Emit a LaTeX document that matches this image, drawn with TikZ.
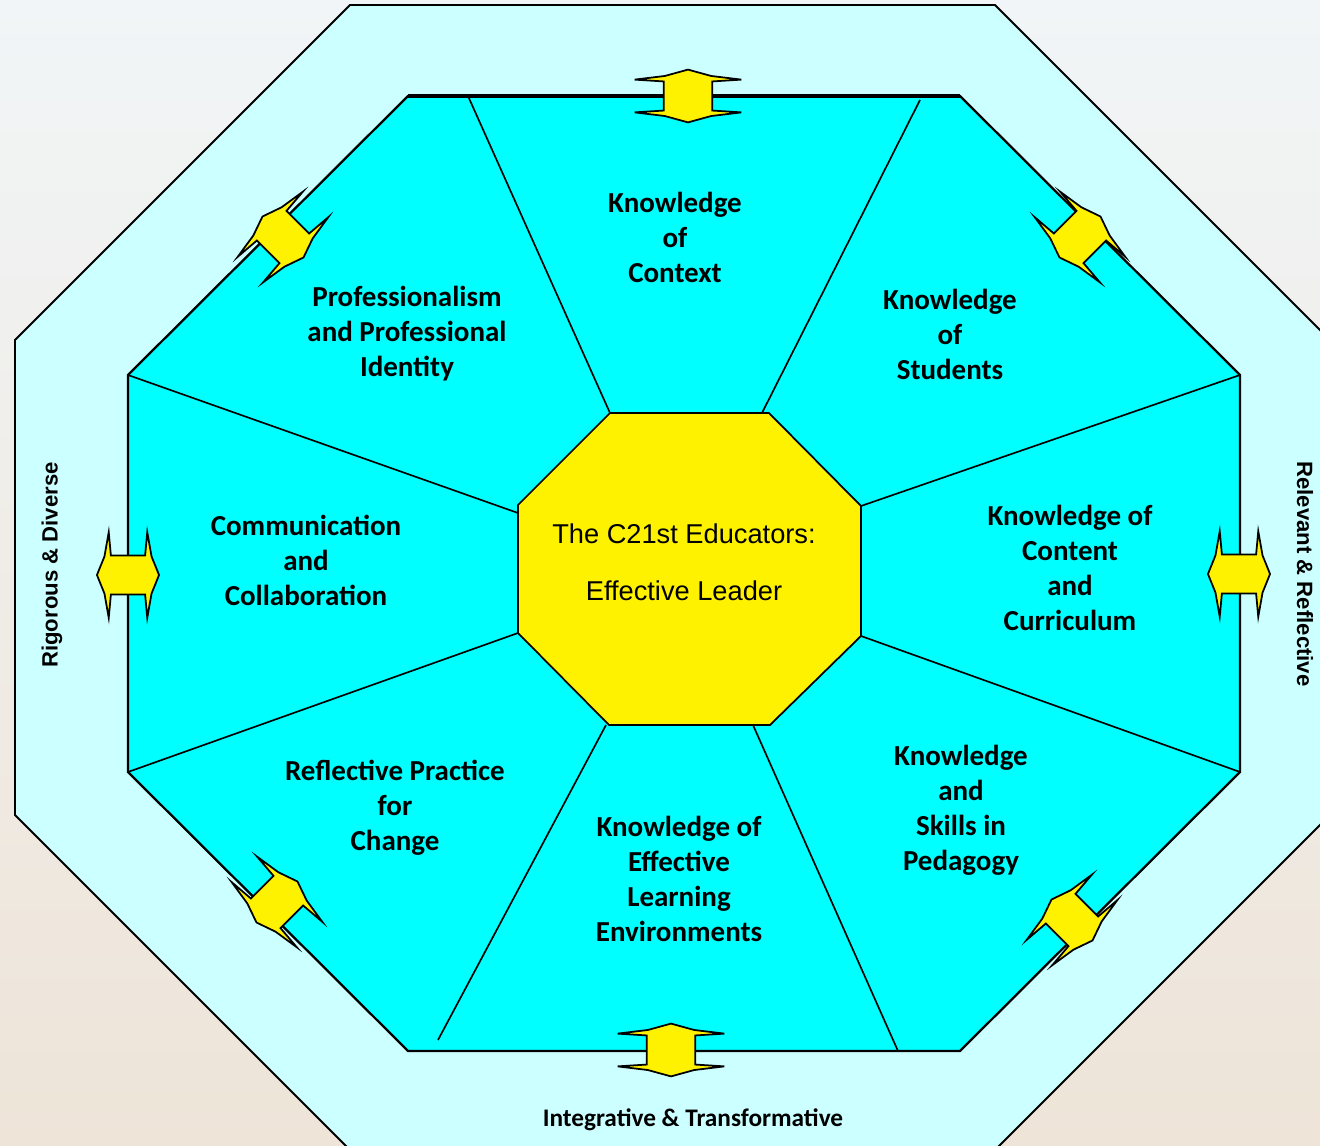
\documentclass[tikz,border=0pt]{standalone}
\usepackage{fontspec}
\setmainfont{Carlito}
\newfontfamily\arialfont{Liberation Sans}
\usetikzlibrary{calc}

\definecolor{paleaqua}{HTML}{CCFFFF}
\definecolor{aqua}{HTML}{00FFFF}
\definecolor{bgtop}{HTML}{F1F5F7}
\definecolor{bgmid}{HTML}{F8F8F6}
\definecolor{bgbot}{HTML}{EEE4D8}

\tikzset{
  facet/.style={font=\bfseries\fontsize{16.5}{19.9}\selectfont, align=center},
  rim/.style={font=\arialfont\bfseries\fontsize{12.6}{15}\selectfont},
  dblarrow/.style={fill=yellow, draw=black, line width=1pt, line join=miter},
  divider/.style={line width=0.95pt},
}

\begin{document}
\begin{tikzpicture}[x=0.02cm, y=-0.02cm]
    \clip (0,0) rectangle (1320,1146);
    \shade[top color=bgtop, middle color=bgmid, bottom color=bgbot] (0,0) rectangle (1320,1146);

    % outer ring
    \draw[fill=paleaqua, line width=1.1pt] (350,5) -- (995,5) -- (1330,340) -- (1330,815)
        -- (995,1150) -- (350,1150) -- (15,815) -- (15,340) -- cycle;

    % inner octagon
    \coordinate (i1) at (408,96);
    \coordinate (i2) at (960,96);
    \coordinate (i3) at (1240,375);
    \coordinate (i4) at (1240,772);
    \coordinate (i5) at (960,1051);
    \coordinate (i6) at (408,1051);
    \coordinate (i7) at (128,772);
    \coordinate (i8) at (128,375);
    \draw[fill=aqua, line width=1.3pt] (i1) -- (i2) -- (i3) -- (i4) -- (i5) -- (i6) -- (i7) -- (i8) -- cycle;
    \draw[line width=1.8pt] (i1) -- (i2);

    % centre octagon
    \coordinate (c1) at (610,413);
    \coordinate (c2) at (769,413);
    \coordinate (c3) at (861,506);
    \coordinate (c4) at (861,636);
    \coordinate (c5) at (770,725);
    \coordinate (c6) at (609,725);
    \coordinate (c7) at (518,633);
    \coordinate (c8) at (518,505);

    % dividers
    \draw[divider] (c1) -- (468,96);
    \draw[divider] (762,413) -- (920,100);
    \draw[divider] (c3) -- (i3);
    \draw[divider] (c4) -- (i4);
    \draw[divider] (753,725) -- (898,1051);
    \draw[divider] (606,725) -- (438,1040);
    \draw[divider] (c7) -- (i7);
    \draw[divider] (518,513) -- (i8);

    \draw[fill=yellow, line width=1pt] (c1) -- (c2) -- (c3) -- (c4) -- (c5) -- (c6) -- (c7) -- (c8) -- cycle;

    % arrows across the rim
    \foreach \ax/\ay/\ang/\su/\sv in {688/96/90/0.91/1.16, 671/1050/90/0.91/1.16,
        128/575/0/1.07/0.93, 1239/574/0/1.07/0.93,
        283/237/-45/1/1, 1080/237/45/1/1, 1072/920/-45/1/1, 277/902/45/1/1}
        \draw[dblarrow, shift={(\ax,\ay)}, rotate=\ang, xscale=\su, yscale=\sv]
            (29,0) -- (22,20) -- (18,46) -- (16,21) -- (-16,21) -- (-18,46) -- (-22,20)
            -- (-29,0) -- (-22,-20) -- (-18,-46) -- (-16,-21) -- (16,-21) -- (18,-46) -- (22,-20) -- cycle;

    % labels
    \node[font=\arialfont\fontsize{15.5}{32.4}\selectfont, align=center] (leader) at (684,562)
        {The C21st Educators:\\Effective Leader};
    \node[facet] (context) at (675,237) {Knowledge\\of\\Context};
    \node[facet] (profid) at (407,334) {Professionalism\\and Professional\\Identity};
    \node[facet] (students) at (950,334) {Knowledge\\of\\Students};
    \node[facet] (commu) at (306,560) {Communication\\and\\Collaboration};
    \node[facet] (content) at (1070,568) {Knowledge of\\Content\\and\\Curriculum};
    \node[facet] (reflect) at (395,808) {Reflective Practice\\for\\Change};
    \node[facet] (environ) at (679,879) {Knowledge of\\Effective\\Learning\\Environments};
    \node[facet] (pedagogy) at (961,810) {Knowledge\\and\\Skills in\\Pedagogy};
    \node[font=\bfseries\fontsize{14.4}{17}\selectfont] (integr) at (693,1120) {Integrative \& Transformative};
    \node[rim, rotate=90] (rigor) at (52,565) {Rigorous \& Diverse};
    \node[rim, rotate=-90] (relev) at (1305,574) {Relevant \& Reflective};
\end{tikzpicture}
\end{document}
